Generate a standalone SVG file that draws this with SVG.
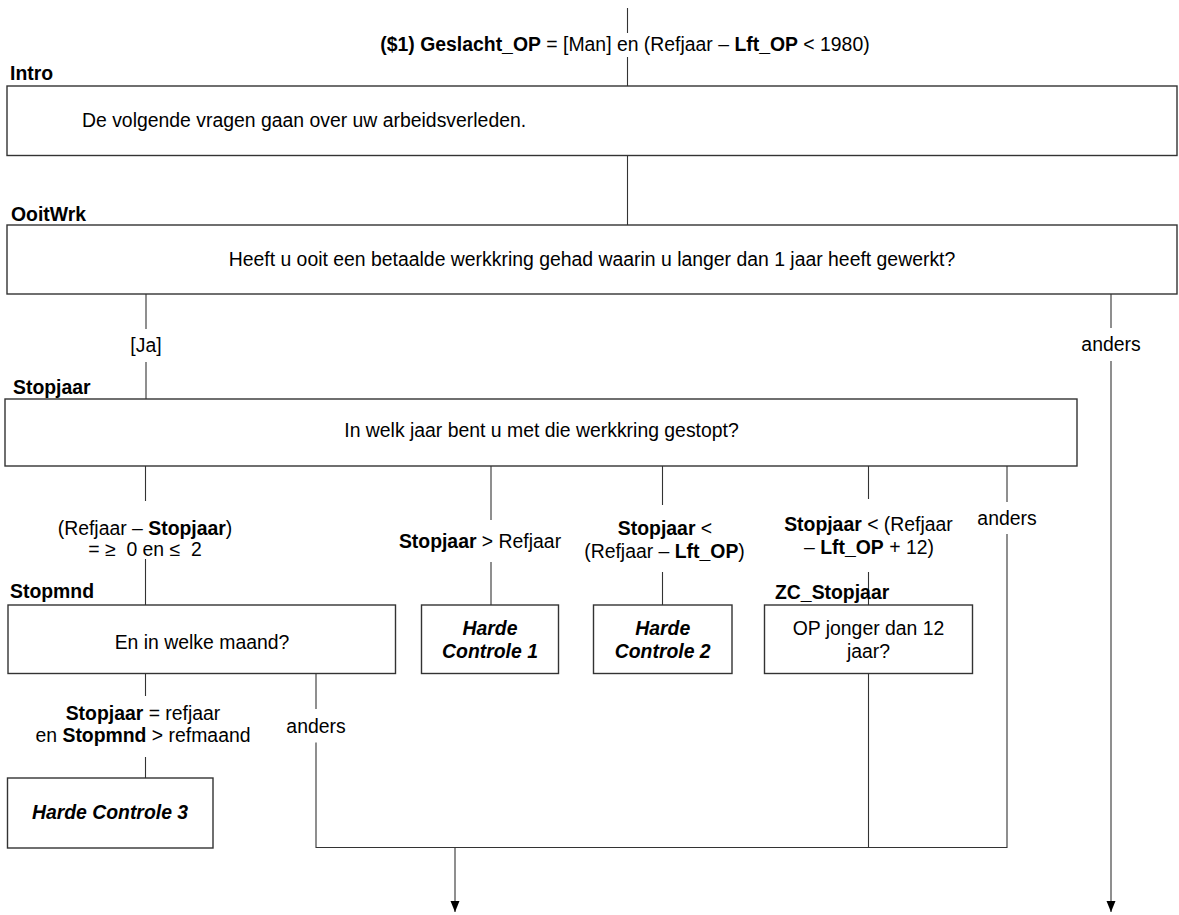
<svg xmlns="http://www.w3.org/2000/svg" width="1179" height="915" viewBox="0 0 1179 915">
<style>
text{font-family:"Liberation Sans",Arial,sans-serif;font-size:19.4px;fill:#000}
.b{font-weight:bold}
.bi{font-weight:bold;font-style:italic}
.m{text-anchor:middle}
.box{fill:#fff;stroke:#333;stroke-width:1.4}
.c line,.c polyline{stroke:#333;stroke-width:1.1;fill:none}
.pre{white-space:pre}
</style>
<defs>
<marker id="ah" markerUnits="userSpaceOnUse" markerWidth="11" markerHeight="10" refX="11" refY="5" orient="auto">
<path d="M0,0.5 L11,5 L0,9.5 z" fill="#000"/>
</marker>
</defs>
<rect width="1179" height="915" fill="#fff"/>
<g class="c" id="connectors">
<line x1="627.5" y1="8" x2="627.5" y2="33"/>
<line x1="627.5" y1="57" x2="627.5" y2="86"/>
<line x1="627.5" y1="155.5" x2="627.5" y2="225"/>
<line x1="146" y1="294" x2="146" y2="329"/>
<line x1="146" y1="362" x2="146" y2="399"/>
<line x1="1111" y1="294" x2="1111" y2="328"/>
<line x1="1111" y1="361" x2="1111" y2="912" marker-end="url(#ah)"/>
<line x1="145.5" y1="466" x2="145.5" y2="501"/>
<line x1="145.5" y1="559" x2="145.5" y2="605"/>
<line x1="491" y1="466" x2="491" y2="520"/>
<line x1="491" y1="562" x2="491" y2="605"/>
<line x1="662.5" y1="466" x2="662.5" y2="505"/>
<line x1="662.5" y1="572" x2="662.5" y2="605"/>
<line x1="868.5" y1="466" x2="868.5" y2="499"/>
<line x1="868.5" y1="572" x2="868.5" y2="605"/>
<line x1="1007" y1="466" x2="1007" y2="502"/>
<line x1="145.5" y1="673.5" x2="145.5" y2="696"/>
<line x1="145.5" y1="757" x2="145.5" y2="778"/>
<polyline points="316,742.5 316,847.5 1007,847.5 1007,534"/>
<line x1="316" y1="673.5" x2="316" y2="709"/>
<line x1="868.5" y1="673.5" x2="868.5" y2="847.5"/>
<line x1="455" y1="847.5" x2="455" y2="912" marker-end="url(#ah)"/>
</g>
<g id="cond-top">
<text x="625" y="51" class="m"><tspan class="b">($1) Geslacht_OP</tspan> = [Man] en (Refjaar – <tspan class="b">Lft_OP</tspan> &lt; 1980)</text>
</g>
<g id="Intro">
<text x="10" y="80" class="b">Intro</text>
<rect class="box" x="7" y="86" width="1170" height="69.5"/>
<text x="82" y="127">De volgende vragen gaan over uw arbeidsverleden.</text>
</g>
<g id="OoitWrk">
<text x="11" y="221" class="b">OoitWrk</text>
<rect class="box" x="7" y="225" width="1170" height="69"/>
<text x="592" y="266" class="m">Heeft u ooit een betaalde werkkring gehad waarin u langer dan 1 jaar heeft gewerkt?</text>
</g>
<g id="lbl-ja"><text x="146" y="352" class="m">[Ja]</text></g>
<g id="lbl-anders1"><text x="1111" y="351" class="m">anders</text></g>
<g id="Stopjaar">
<text x="13" y="394" class="b">Stopjaar</text>
<rect class="box" x="5" y="399" width="1072" height="67"/>
<text x="541.5" y="437" class="m">In welk jaar bent u met die werkkring gestopt?</text>
</g>
<g id="lbl-c1">
<text x="145" y="535" class="m">(Refjaar – <tspan class="b">Stopjaar</tspan>)</text>
<text x="145" y="556" class="m pre">= ≥  0 en ≤  2</text>
</g>
<g id="lbl-c2"><text x="480" y="548" class="m"><tspan class="b">Stopjaar</tspan> &gt; Refjaar</text></g>
<g id="lbl-c3">
<text x="665" y="535" class="m"><tspan class="b">Stopjaar</tspan> &lt;</text>
<text x="664.5" y="558" class="m">(Refjaar – <tspan class="b">Lft_OP</tspan>)</text>
</g>
<g id="lbl-c4">
<text x="868.5" y="531" class="m"><tspan class="b">Stopjaar</tspan> &lt; (Refjaar</text>
<text x="869" y="554" class="m">– <tspan class="b">Lft_OP</tspan> + 12)</text>
</g>
<g id="lbl-anders2"><text x="1007" y="525" class="m">anders</text></g>
<g id="Stopmnd">
<text x="10" y="598" class="b">Stopmnd</text>
<rect class="box" x="8" y="605" width="387.5" height="68.5"/>
<text x="202" y="649" class="m">En in welke maand?</text>
</g>
<g id="HardeControle1">
<rect class="box" x="421.5" y="605" width="137" height="68.5"/>
<text x="490" y="635" class="m bi">Harde</text>
<text x="490" y="658" class="m bi">Controle 1</text>
</g>
<g id="HardeControle2">
<rect class="box" x="593.5" y="605" width="138.5" height="68.5"/>
<text x="662.7" y="635" class="m bi">Harde</text>
<text x="662.7" y="658" class="m bi">Controle 2</text>
</g>
<g id="ZC_Stopjaar">
<text x="775" y="599" class="b">ZC_Stopjaar</text>
<rect class="box" x="764.5" y="605" width="208" height="68.5"/>
<text x="868.5" y="635" class="m">OP jonger dan 12</text>
<text x="868.5" y="658" class="m">jaar?</text>
</g>
<g id="lbl-c5">
<text x="143" y="720" class="m"><tspan class="b">Stopjaar</tspan> = refjaar</text>
<text x="143" y="742" class="m">en <tspan class="b">Stopmnd</tspan> &gt; refmaand</text>
</g>
<g id="lbl-anders3"><text x="316" y="733" class="m">anders</text></g>
<g id="HardeControle3">
<rect class="box" x="7.5" y="778" width="205.5" height="70"/>
<text x="110" y="819" class="m bi">Harde Controle 3</text>
</g>
</svg>
